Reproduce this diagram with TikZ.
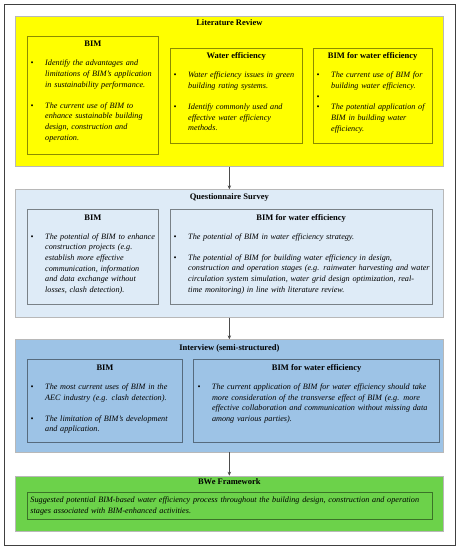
\documentclass[tikz,border=0pt]{standalone}
\usepackage{fontspec}
\setmainfont{Liberation Serif}
\usetikzlibrary{arrows.meta}

\definecolor{litYellow}{HTML}{FFFF00}
\definecolor{surveyBlue}{HTML}{DEEBF7}
\definecolor{interviewBlue}{HTML}{9DC3E6}
\definecolor{frameGreen}{HTML}{6CD24A}

% one bullet point of a topic box, and the gap between two of them
\newcommand\bimitem[1]{\noindent\hangindent=14.5pt\hangafter=1\hbox to 14.5pt{\textbullet\hfil}#1\par}
\newcommand\bimgap{\vskip 10.4pt}

\begin{document}
\begin{tikzpicture}[x=1pt,y=-1pt,
  stagebox/.style={draw=black!28, line width=0.7pt, inner sep=0pt, anchor=north west},
  topicbox/.style={draw=black, draw opacity=0.45, line width=0.7pt, inner sep=0pt, anchor=north west},
  stagetitle/.style={font=\fontsize{8.5}{10}\selectfont\bfseries, anchor=base, inner sep=0pt},
  topictext/.style={font=\fontsize{8.2}{10.7}\selectfont\itshape, anchor=base west, inner sep=0pt, text width=#1, align=left},
  flow/.style={draw=black!70, line width=0.6pt, -{Stealth[length=4pt,width=3.5pt]}}]
    \useasboundingbox (0,0) rectangle (462,550);
    % Outer frame
    \draw[black!75, line width=0.8pt] (4,4) rectangle (455,545);

    % Literature Review
    \node[stagebox, fill=litYellow, minimum width=428pt, minimum height=150.3pt] (lit) at (15,15.7) {};
    \node[stagetitle] (litT) at ([yshift=-10pt]lit.north) {Literature Review};
    \node[topicbox, minimum width=131pt, minimum height=118.3pt] (litBim) at (27,35.7) {};
    \node[stagetitle] (litBimT) at ([yshift=-11pt]litBim.north) {BIM};
    \node[topictext=150pt] (litBimTxt) at ([xshift=3.5pt,yshift=-30pt]litBim.north west) {%
      \bimitem{Identify the advantages and\newline limitations of BIM's application\newline in sustainability performance.}\bimgap
      \bimitem{The current use of BIM to\newline enhance sustainable building\newline design, construction and\newline operation.}};
    \node[topicbox, minimum width=131.7pt, minimum height=95pt] (litWater) at (170,47.7) {};
    \node[stagetitle] (litWaterT) at ([yshift=-11pt]litWater.north) {Water efficiency};
    \node[topictext=150pt] (litWaterTxt) at ([xshift=3.5pt,yshift=-30pt]litWater.north west) {%
      \bimitem{Water efficiency issues in green\newline building rating systems.}\bimgap
      \bimitem{Identify commonly used and\newline effective water efficiency\newline methods.}};
    \node[topicbox, minimum width=118.7pt, minimum height=95pt] (litBimWater) at (313,47.7) {};
    \node[stagetitle] (litBimWaterT) at ([yshift=-11pt]litBimWater.north) {BIM for water efficiency};
    \node[topictext=140pt] (litBimWaterTxt) at ([xshift=3.5pt,yshift=-30pt]litBimWater.north west) {%
      \bimitem{The current use of BIM for\newline building water efficiency.}
      \bimitem{\mbox{}}
      \bimitem{The potential application of\newline BIM in building water\newline efficiency.}};

    % Questionnaire Survey
    \node[stagebox, fill=surveyBlue, minimum width=428pt, minimum height=127.7pt] (quest) at (15,189.3) {};
    \node[stagetitle] (questT) at ([yshift=-10pt]quest.north) {Questionnaire Survey};
    \node[topicbox, minimum width=131pt, minimum height=95pt] (questBim) at (27,209) {};
    \node[stagetitle] (questBimT) at ([yshift=-11pt]questBim.north) {BIM};
    \node[topictext=150pt] (questBimTxt) at ([xshift=3.5pt,yshift=-30pt]questBim.north west) {%
      \bimitem{The potential of BIM to enhance\newline construction projects (e.g.\newline establish more effective\newline communication, information\newline and data exchange without\newline losses, clash detection).}};
    \node[topicbox, minimum width=261.7pt, minimum height=95pt] (questBimWater) at (170,209) {};
    \node[stagetitle] (questBimWaterT) at ([yshift=-11pt]questBimWater.north) {BIM for water efficiency};
    \node[topictext=290pt] (questBimWaterTxt) at ([xshift=3.5pt,yshift=-30pt]questBimWater.north west) {%
      \bimitem{The potential of BIM in water efficiency strategy.}\bimgap
      \bimitem{The potential of BIM for building water efficiency in design,\newline construction and operation stages (e.g. rainwater harvesting and water\newline circulation system simulation, water grid design optimization, real-\newline time monitoring) in line with literature review.}};

    % Interview (semi-structured)
    \node[stagebox, fill=interviewBlue, minimum width=428pt, minimum height=112.4pt] (inter) at (15,339.3) {};
    \node[stagetitle] (interT) at ([yshift=-10.8pt]inter.north) {Interview (semi-structured)};
    \node[topicbox, minimum width=155.3pt, minimum height=83pt] (interBim) at (27,359.3) {};
    \node[stagetitle] (interBimT) at ([yshift=-11pt]interBim.north) {BIM};
    \node[topictext=180pt] (interBimTxt) at ([xshift=3.5pt,yshift=-30pt]interBim.north west) {%
      \bimitem{The most current uses of BIM in the\newline AEC industry (e.g. clash detection).}\bimgap
      \bimitem{The limitation of BIM's development\newline and application.}};
    \node[topicbox, minimum width=246pt, minimum height=83pt] (interBimWater) at (193.3,359.3) {};
    \node[stagetitle] (interBimWaterT) at ([yshift=-11pt]interBimWater.north) {BIM for water efficiency};
    \node[topictext=280pt] (interBimWaterTxt) at ([xshift=4pt,yshift=-30pt]interBimWater.north west) {%
      \bimitem{The current application of BIM for water efficiency should take\newline more consideration of the transverse effect of BIM (e.g. more\newline effective collaboration and communication without missing data\newline among various parties).}};

    % BWe Framework
    \node[stagebox, fill=frameGreen, minimum width=428pt, minimum height=55pt] (bwe) at (15,475.7) {};
    \node[stagetitle] (bweT) at ([yshift=-9pt]bwe.north) {BWe Framework};
    \node[topicbox, minimum width=405.3pt, minimum height=27pt] (bweBox) at (26.7,492) {};
    \node[topictext=430pt] (bweTxt) at ([xshift=3.6pt,yshift=-10.9pt]bweBox.north west) {%
      Suggested potential BIM-based water efficiency process throughout the building design, construction and operation\newline stages associated with BIM-enhanced activities.};

    % Flow arrows
    \draw[flow] (lit.south) -- (quest.north);
    \draw[flow] (quest.south) -- (inter.north);
    \draw[flow] (inter.south) -- (bwe.north);
\end{tikzpicture}
\end{document}
